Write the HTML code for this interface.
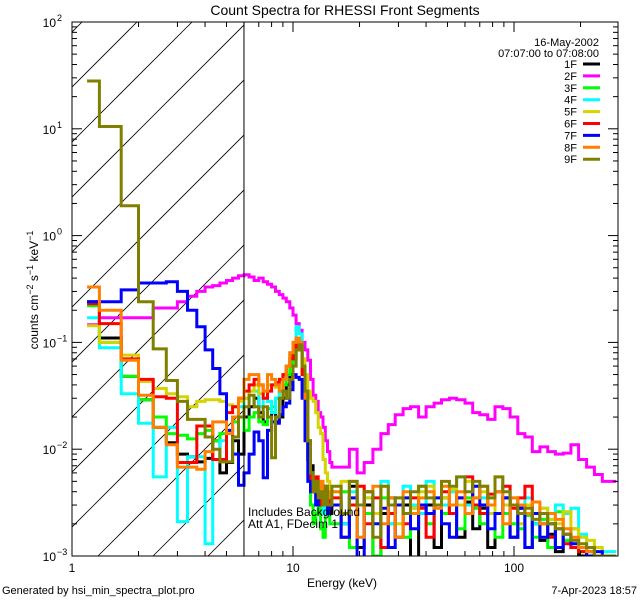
<!DOCTYPE html>
<html><head><meta charset="utf-8"><style>
body{margin:0;background:#fff;}
svg{display:block;font-family:"Liberation Sans",sans-serif;}
</style></head><body>
<svg id="chart" width="640" height="600" xmlns="http://www.w3.org/2000/svg">
<rect width="640" height="600" fill="#fff"/>
<defs><clipPath id="pc"><rect x="72" y="22" width="546" height="534"/></clipPath></defs>
<g id="hatch" clip-path="url(#pc)"></g>
<g id="series" clip-path="url(#pc)"></g>
<g id="axes"></g>
<text x="345" y="15" font-size="14" text-anchor="middle">Count Spectra for RHESSI Front Segments</text>
<text x="342" y="587" font-size="12" text-anchor="middle">Energy (keV)</text>
<text transform="translate(38,290) rotate(-90)" font-size="12" text-anchor="middle">counts cm<tspan dy="-5" font-size="9">−2</tspan><tspan dy="5"> s</tspan><tspan dy="-5" font-size="9">−1</tspan><tspan dy="5"> keV</tspan><tspan dy="-5" font-size="9">−1</tspan></text>
<text x="2" y="594" font-size="11">Generated by hsi_min_spectra_plot.pro</text>
<text x="637" y="594" font-size="11" text-anchor="end">7-Apr-2023 18:57</text>
<text x="248" y="516" font-size="12">Includes Background</text>
<text x="248" y="528" font-size="12">Att A1, FDecim 1</text>
<text x="599" y="46" font-size="11" text-anchor="end">16-May-2002</text>
<text x="599" y="57" font-size="11" text-anchor="end">07:07:00 to 07:08:00</text>
<g id="legend"></g>
</svg>
<script>
const edges = [1.17,1.33,1.67,2.0,2.33,2.67,3.0,3.33,3.67,4.0,4.33,4.67,5.0,5.33,5.67,6.0,6.33,6.67,7.0,7.33,7.67,8.0,8.33,8.67,9.0,9.33,9.67,10,10.33,10.67,11,11.33,11.67,12,12.33,12.67,13,13.33,13.67,14,14.33,14.67,15,
16.5,18,19.5,21,23,25,27,29,31.5,34,37,40,43.5,47,51,55,60,65,70,76,82,89,96,104,112,121,131,142,154,167,181,196,213,231,251,290];
const seriesNames = ["1F","2F","3F","4F","5F","6F","7F","8F","9F"];
const seriesColors = ["#000000","#ff00ff","#00ff00","#00ffff","#d4d400","#ff0000","#0000ff","#ff8000","#808000"];
const s1F = [0.24,0.11,0.048,0.029,0.016,0.0115,0.009,0.0085,0.0076,0.0082,0.012,0.006,0.0075,0.012,0.009,
0.02,0.025,0.03,0.022,0.018,0.02,0.022,0.018,0.02,0.03,0.04,0.05,0.07,0.085,0.09,0.06,0.03,0.012,0.007,0.005,0.004,0.0045,0.003,0.004,0.003,0.0035,0.0025,
0.003,0.002,0.0045,0.0012,0.003,0.0009,0.0025,0.0035,0.0015,0.003,0.0008,0.0025,0.003,0.0012,0.0035,0.0025,0.0015,0.0032,0.0018,0.0028,0.0012,0.0025,0.0035,0.0015,0.0028,0.0012,0.002,0.0014,0.0016,0.0011,0.0014,0.0012,0.001,0.0011,0.0009,0.0008];
const s2F = [0.146,0.17,0.17,0.17,0.21,0.21,0.24,0.27,0.3,0.33,0.34,0.36,0.38,0.4,0.42,
0.43,0.41,0.38,0.4,0.37,0.35,0.33,0.3,0.28,0.26,0.24,0.21,0.18,0.15,0.13,0.1,0.085,0.068,0.045,0.032,0.028,0.022,0.02,0.016,0.012,0.0095,0.0075,
0.0068,0.0068,0.01,0.006,0.0075,0.01,0.014,0.017,0.021,0.024,0.025,0.02,0.025,0.027,0.029,0.03,0.029,0.027,0.022,0.021,0.019,0.025,0.024,0.02,0.014,0.013,0.0095,0.0105,0.0095,0.009,0.0092,0.011,0.008,0.0068,0.0058,0.005];
const s3F = [0.22,0.1,0.048,0.029,0.02,0.014,0.0135,0.0125,0.014,0.015,0.012,0.014,0.015,0.018,0.02,
0.015,0.02,0.022,0.018,0.017,0.024,0.025,0.03,0.035,0.04,0.05,0.06,0.08,0.1,0.09,0.05,0.02,0.008,0.003,0.002,0.0025,0.003,0.0018,0.0015,0.0025,0.003,0.002,
0.002,0.004,0.0012,0.003,0.0025,0.001,0.0035,0.002,0.003,0.0015,0.0028,0.0045,0.002,0.003,0.0025,0.004,0.0018,0.0035,0.0028,0.002,0.0035,0.0015,0.0025,0.002,0.0018,0.0024,0.0015,0.0022,0.0012,0.0026,0.0014,0.0018,0.0011,0.0012,0.001,0.0008];
const s4F = [0.17,0.089,0.033,0.0175,0.0055,0.016,0.0021,0.0085,0.0085,0.0013,0.008,0.012,0.015,0.02,0.025,
0.03,0.035,0.035,0.025,0.03,0.028,0.022,0.03,0.035,0.045,0.06,0.08,0.1,0.14,0.12,0.07,0.025,0.008,0.006,0.004,0.003,0.0035,0.004,0.0025,0.003,0.004,0.0035,
0.003,0.002,0.004,0.0015,0.0035,0.0025,0.005,0.002,0.0035,0.0045,0.003,0.0025,0.005,0.0035,0.003,0.004,0.0055,0.003,0.0045,0.0035,0.0025,0.004,0.0045,0.003,0.0025,0.0035,0.002,0.0028,0.0022,0.003,0.0025,0.0028,0.0016,0.0012,0.001,0.0011];
const s5F = [0.143,0.1,0.076,0.043,0.037,0.033,0.031,0.025,0.028,0.029,0.029,0.028,0.026,0.025,0.028,
0.03,0.035,0.04,0.033,0.035,0.04,0.04,0.038,0.045,0.05,0.06,0.075,0.09,0.1,0.095,0.07,0.05,0.035,0.03,0.028,0.022,0.016,0.014,0.008,0.006,0.005,0.004,
0.004,0.005,0.003,0.0045,0.0035,0.0025,0.0045,0.003,0.002,0.0035,0.0028,0.004,0.0045,0.003,0.0035,0.0042,0.003,0.005,0.0035,0.004,0.0025,0.0055,0.003,0.0035,0.002,0.003,0.0025,0.0028,0.0022,0.002,0.0026,0.0018,0.0015,0.0014,0.0012,0.001];
const s6F = [0.23,0.15,0.07,0.045,0.031,0.03,0.0075,0.0075,0.0165,0.0165,0.008,0.008,0.022,0.025,0.03,
0.035,0.04,0.045,0.04,0.03,0.035,0.04,0.042,0.045,0.05,0.06,0.07,0.085,0.1,0.09,0.05,0.02,0.008,0.005,0.004,0.0055,0.003,0.0045,0.003,0.004,0.0028,0.0035,
0.0035,0.0015,0.003,0.0045,0.002,0.0035,0.0012,0.0025,0.003,0.002,0.0035,0.0028,0.0015,0.003,0.004,0.0025,0.0035,0.0055,0.003,0.0025,0.0038,0.004,0.0045,0.0028,0.0035,0.0045,0.0025,0.002,0.0015,0.0018,0.0013,0.0012,0.0011,0.0012,0.001,0.0009];
const s7F = [0.24,0.24,0.31,0.36,0.36,0.37,0.3,0.2,0.14,0.085,0.057,0.033,0.015,0.009,0.0046,
0.006,0.009,0.0145,0.012,0.0054,0.015,0.018,0.0175,0.021,0.025,0.027,0.036,0.05,0.047,0.045,0.03,0.012,0.005,0.004,0.005,0.003,0.0045,0.004,0.003,0.0045,0.0025,0.003,
0.003,0.0015,0.0035,0.0009,0.004,0.002,0.0028,0.0012,0.003,0.0035,0.0018,0.003,0.0025,0.0035,0.002,0.0015,0.0035,0.0025,0.0045,0.003,0.0018,0.0025,0.0035,0.0015,0.0028,0.0012,0.0025,0.0015,0.002,0.0012,0.0016,0.0013,0.0012,0.001,0.0011,0.0009];
const s8F = [0.33,0.2,0.068,0.032,0.016,0.011,0.0068,0.0068,0.0065,0.0095,0.018,0.018,0.014,0.02,0.03,
0.045,0.05,0.05,0.04,0.035,0.05,0.045,0.04,0.035,0.045,0.06,0.08,0.1,0.11,0.1,0.06,0.03,0.012,0.006,0.005,0.0045,0.004,0.005,0.003,0.0045,0.0035,0.004,
0.004,0.0025,0.005,0.0015,0.004,0.0045,0.002,0.0035,0.0015,0.004,0.0025,0.0035,0.004,0.0028,0.0045,0.003,0.004,0.0025,0.0035,0.0045,0.003,0.004,0.002,0.0035,0.003,0.0025,0.0032,0.002,0.0025,0.0022,0.0018,0.0015,0.0012,0.0011,0.001,0.0009];
const s9F = [28,10.5,1.9,0.24,0.087,0.044,0.028,0.019,0.019,0.013,0.01,0.0076,0.0076,0.013,0.02,
0.025,0.032,0.025,0.02,0.025,0.02,0.0083,0.02,0.03,0.035,0.03,0.045,0.06,0.085,0.095,0.06,0.035,0.012,0.006,0.004,0.005,0.0035,0.004,0.003,0.0045,0.003,0.003,
0.0045,0.0025,0.005,0.003,0.004,0.0015,0.0045,0.003,0.0035,0.0025,0.004,0.0045,0.0035,0.003,0.005,0.0045,0.0055,0.004,0.005,0.0045,0.0035,0.0055,0.004,0.003,0.0025,0.0028,0.0022,0.0025,0.002,0.0018,0.0016,0.0014,0.0013,0.0012,0.001,0.001];
const seriesValues = [s1F,s2F,s3F,s4F,s5F,s6F,s7F,s8F,s9F];
const xTickLabels = ["1","10","100"];
const xTickValues = [1,10,100];
const yTickExps = [-3,-2,-1,0,1,2];

const NS="http://www.w3.org/2000/svg";
const X0=72,X1=618,Y0=22,Y1=556,XDEC=221,YDEC=106.8;
function xs(e){return X0+XDEC*Math.log10(e);}
function ys(v){return Y1-YDEC*(Math.log10(Math.max(v,1e-4))+3);}
function mk(tag,attrs,parent){const el=document.createElementNS(NS,tag);for(const k in attrs)el.setAttribute(k,attrs[k]);parent.appendChild(el);return el;}

// hatch
const hatch=document.getElementById('hatch');
const vx=xs(6.0);
for(let c=104;c<=820;c+=55){
  const ln=mk('line',{x1:c-Y1,y1:Y1,x2:c-Y0,y2:Y0,stroke:'#000','stroke-width':0.8},hatch);
  
  
}
const hc=mk('clipPath',{id:'hclip'},document.querySelector('defs'));
mk('rect',{x:X0,y:Y0,width:vx-X0,height:Y1-Y0},hc);
hatch.setAttribute('clip-path','url(#hclip)');

// series
const sg=document.getElementById('series');
seriesValues.forEach((vals,i)=>{
  let d='';
  const n=Math.min(vals.length,edges.length-1);
  for(let j=0;j<n;j++){
    const y=ys(vals[j]).toFixed(1);
    d+=(j===0?'M':'L')+xs(edges[j]).toFixed(1)+','+y+'L'+xs(edges[j+1]).toFixed(1)+','+y;
  }
  const p=mk('path',{d:d,fill:'none',stroke:seriesColors[i],'stroke-width':3,'stroke-linejoin':'miter'},sg);
  
  
});

// axes
const ax=document.getElementById('axes');
mk('rect',{x:X0,y:Y0,width:X1-X0,height:Y1-Y0,fill:'none',stroke:'#000','stroke-width':1},ax);
const vl=mk('line',{x1:vx,y1:Y0,x2:vx,y2:Y1,stroke:'#000','stroke-width':1},ax);


for(let dec=0;dec<3;dec++){
  for(let m=1;m<10;m++){
    const e=m*Math.pow(10,dec); const x=xs(e); if(x>X1)break;
    const L=m===1?10:5;
    mk('line',{x1:x,y1:Y1,x2:x,y2:Y1-L,stroke:'#000'},ax);
    mk('line',{x1:x,y1:Y0,x2:x,y2:Y0+L,stroke:'#000'},ax);
  }
}
xTickValues.forEach((v,i)=>{
  const t=mk('text',{x:xs(v),y:Y1+16,'font-size':12,'text-anchor':'middle'},ax);
  t.textContent=xTickLabels[i];
  
  
});
yTickExps.forEach(ex=>{
  for(let m=1;m<10;m++){
    if(ex===2&&m>1)break;
    const y=ys(m*Math.pow(10,ex)); const L=m===1?10:5;
    mk('line',{x1:X0,y1:y,x2:X0+L,y2:y,stroke:'#000'},ax);
    mk('line',{x1:X1,y1:y,x2:X1-L,y2:y,stroke:'#000'},ax);
  }
  const t=mk('text',{x:X0-16,y:ys(Math.pow(10,ex))+5,'font-size':12,'text-anchor':'end'},ax);
  t.textContent='10';
  
  
  const s=mk('text',{x:X0-15,y:ys(Math.pow(10,ex))-1,'font-size':9},ax);
  s.textContent=(ex<0?'−':'')+Math.abs(ex);
});

// legend
const lg=document.getElementById('legend');
seriesNames.forEach((nm,i)=>{
  const y=64+i*11.9;
  const t=mk('text',{x:577,y:y+4,'font-size':11,'text-anchor':'end'},lg);
  t.textContent=nm;
  
  
  const l=mk('line',{x1:583,y1:y,x2:600,y2:y,stroke:seriesColors[i],'stroke-width':3},lg);
  
  
});
</script>
</body></html>
